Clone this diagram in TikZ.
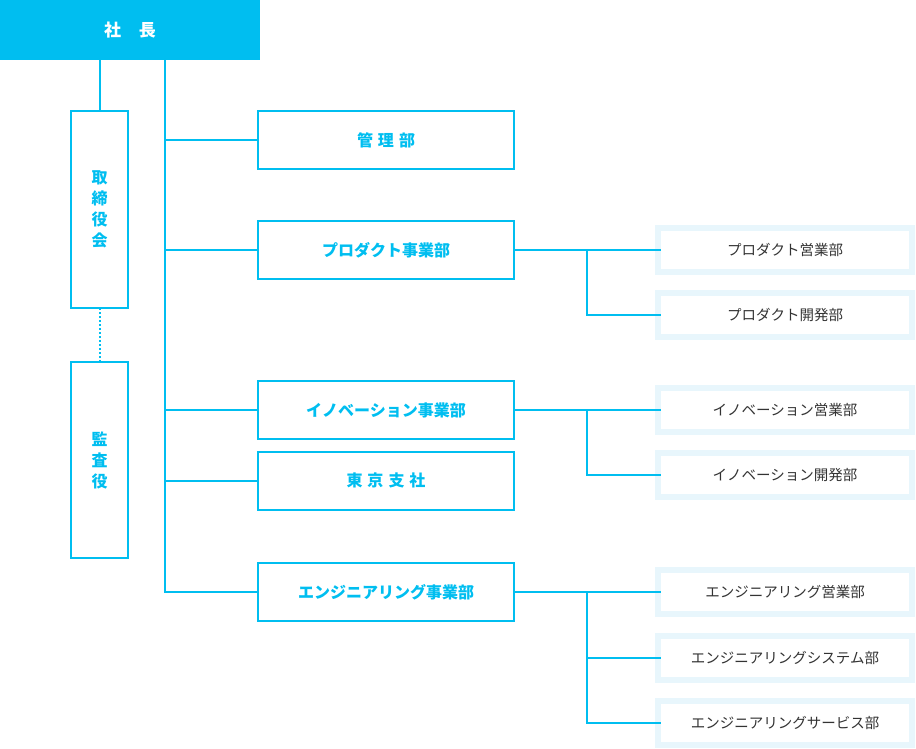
\documentclass[tikz,border=0pt]{standalone}
\usepackage{fontspec}
\setmainfont{Noto Sans CJK JP}
\definecolor{orgblue}{RGB}{0,190,240}
\definecolor{orgpale}{RGB}{232,246,252}
\definecolor{orgtext}{RGB}{51,51,51}
\tikzset{
  link/.style={orgblue, line width=2pt},
  chief/.style={fill=orgblue, minimum width=260pt, minimum height=60pt, inner sep=0pt,
    text=white, font=\fontsize{17}{20}\selectfont\bfseries},
  sidebox/.style={draw=orgblue, line width=2pt, minimum width=57pt, inner sep=0pt, outer sep=0pt,
    text=orgblue, align=center, font=\fontsize{16}{21}\selectfont\bfseries},
  deptbox/.style={draw=orgblue, line width=2pt, minimum width=256pt, minimum height=58pt,
    inner sep=0pt, outer sep=0pt, text=orgblue, font=\fontsize{16}{19}\selectfont\bfseries},
  unitbox/.style={draw=orgpale, fill=white, line width=6pt, minimum width=254pt, minimum height=44pt,
    inner sep=0pt, outer sep=0pt, text=orgtext, font=\fontsize{14.5}{17}\selectfont}
}
\begin{document}
\begin{tikzpicture}[x=1pt, y=-1pt]
\useasboundingbox (0,0) rectangle (916,748);

% president and the two side boxes
\node[chief] (ceo) at (130,30) {社\hspace{18pt}長};
\node[sidebox, minimum height=197pt] (board) at (99.5,209.5) {取\\締\\役\\会};
\node[sidebox, minimum height=196pt] (audit) at (99.5,460) {監\\査\\役};

% departments
\node[deptbox] (admin) at (386,140) {管\hspace{5pt}理\hspace{5pt}部};
\node[deptbox] (prod)  at (386,250) {プロダクト事業部};
\node[deptbox] (inno)  at (386,410) {イノベーション事業部};
\node[deptbox] (tokyo) at (386,480.5) {東\hspace{5pt}京\hspace{5pt}支\hspace{5pt}社};
\node[deptbox] (eng)   at (386,592) {エンジニアリング事業部};

% sections
\node[unitbox] (psales) at (785,250) {プロダクト営業部};
\node[unitbox] (pdev)   at (785,315) {プロダクト開発部};
\node[unitbox] (isales) at (785,410) {イノベーション営業部};
\node[unitbox] (idev)   at (785,475) {イノベーション開発部};
\node[unitbox] (esales) at (785,592) {エンジニアリング営業部};
\node[unitbox] (esys)   at (785,658) {エンジニアリングシステム部};
\node[unitbox] (eserv)  at (785,723) {エンジニアリングサービス部};

% left side
\draw[link] (board.north) -- (board.north |- ceo.south);
\draw[link, dash pattern=on 2pt off 2pt] (board.south) -- (audit.north);

% trunk
\coordinate (trunk) at (165,60);
\draw[link] (trunk) |- (eng.west);
\draw[link] (trunk |- admin.west) -- (admin.west);
\draw[link] (trunk |- prod.west) -- (prod.west);
\draw[link] (trunk |- inno.west) -- (inno.west);
\draw[link] (trunk |- tokyo.west) -- (tokyo.west);

% branches on the right
\coordinate (pfork) at (587,250);
\coordinate (ifork) at (587,410);
\coordinate (efork) at (587,592);
\draw[link] (prod.east) -- ([xshift=3pt]psales.west);
\draw[link] (pfork) |- ([xshift=3pt]pdev.west);
\draw[link] (inno.east) -- ([xshift=3pt]isales.west);
\draw[link] (ifork) |- ([xshift=3pt]idev.west);
\draw[link] (eng.east) -- ([xshift=3pt]esales.west);
\draw[link] (efork) |- ([xshift=3pt]esys.west);
\draw[link] (efork) |- ([xshift=3pt]eserv.west);
\end{tikzpicture}
\end{document}
